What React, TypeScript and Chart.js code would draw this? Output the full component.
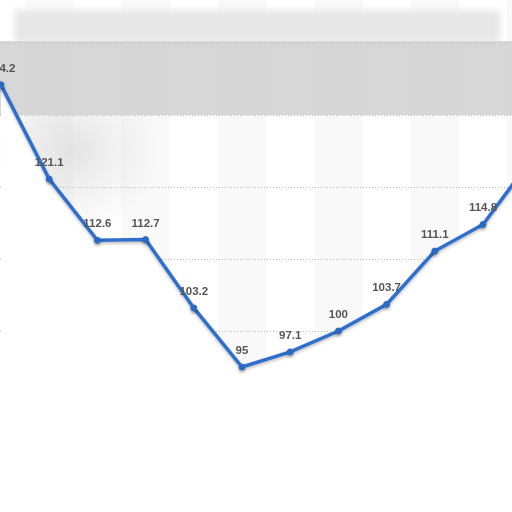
import React, { useRef, useEffect } from "react";
import { Chart, registerables } from "chart.js";

Chart.register(...registerables);

// values read left to right; the first sits on the left edge, the last runs off the right edge
const values: number[] = [134.2, 121.1, 112.6, 112.7, 103.2, 95, 97.1, 100, 103.7, 111.1, 114.8, 123.8];
const labels: string[] = ["134.2", "121.1", "112.6", "112.7", "103.2", "95", "97.1", "100", "103.7", "111.1", "114.8", ""];
const gridValues: number[] = [100, 110, 120, 130, 140];

const LINE = "#2e6fcd";

const backdrop = {
	id: "backdrop",
	beforeDraw(chart: any) {
		const { ctx, chartArea, scales } = chart;
		const x = scales.x;
		const y = scales.y;
		ctx.save();
		ctx.fillStyle = "#ffffff";
		ctx.fillRect(0, 0, chart.width, chart.height);
		// alternating column stripes
		ctx.fillStyle = "#f9f9f9";
		for (let i = 1; i < values.length; i += 2) {
			const l = x.getPixelForValue(i - 0.5);
			const r = x.getPixelForValue(i + 0.5);
			ctx.fillRect(l, chartArea.top, r - l, chartArea.bottom - chartArea.top);
		}
		// blurred grey band at the top
		const top = y.getPixelForValue(130);
		ctx.filter = "blur(3px)";
		ctx.fillStyle = "#e7e7e7";
		ctx.fillRect(14, 10, chart.width - 26, 32);
		ctx.filter = "none";
		ctx.fillStyle = "rgba(208,208,208,0.85)";
		ctx.fillRect(0, 41, chart.width, top - 41);
		// haze on the left under the band
		const g = ctx.createRadialGradient(75, 150, 5, 75, 150, 85);
		g.addColorStop(0, "rgba(205,205,205,0.5)");
		g.addColorStop(1, "rgba(205,205,205,0)");
		ctx.fillStyle = g;
		ctx.fillRect(0, top, 180, 140);
		// dotted horizontal grid
		ctx.strokeStyle = "#bdbdbd";
		ctx.lineWidth = 1;
		ctx.setLineDash([1, 2]);
		gridValues.forEach((v) => {
			const py = Math.round(y.getPixelForValue(v)) + 0.5;
			ctx.beginPath();
			ctx.moveTo(chartArea.left, py);
			ctx.lineTo(chartArea.right, py);
			ctx.stroke();
		});
		ctx.restore();
	},
	beforeDatasetDraw(chart: any) {
		const ctx = chart.ctx;
		ctx.save();
		ctx.shadowColor = "rgba(0,0,0,0.25)";
		ctx.shadowBlur = 3;
		ctx.shadowOffsetY = 2;
	},
	afterDatasetDraw(chart: any) {
		chart.ctx.restore();
	},
	afterDatasetsDraw(chart: any) {
		const { ctx } = chart;
		const meta = chart.getDatasetMeta(0);
		ctx.save();
		ctx.font = "bold 11.5px 'Liberation Sans', Arial, sans-serif";
		ctx.fillStyle = "#555555";
		ctx.textAlign = "center";
		ctx.textBaseline = "alphabetic";
		meta.data.forEach((pt: any, i: number) => {
			if (labels[i]) ctx.fillText(labels[i], pt.x, pt.y - 13);
		});
		ctx.restore();
	},
};

const App: React.FC = () => {
	const chartRef = useRef<HTMLCanvasElement | null>(null);
	const chartInstance = useRef<Chart | null>(null);

	useEffect(() => {
		if (chartInstance.current) {
			chartInstance.current.destroy();
			chartInstance.current = null;
		}
		if (!chartRef.current) return;

		chartInstance.current = new Chart(chartRef.current, {
			type: "line",
			data: {
				datasets: [
					{
						data: values.map((v, i) => ({ x: i, y: v })),
						borderColor: LINE,
						borderWidth: 3.5,
						backgroundColor: "#ffffff",
						fill: "start",
						pointRadius: 3,
						pointBackgroundColor: LINE,
						pointBorderColor: LINE,
						pointBorderWidth: 1,
						tension: 0,
					},
				],
			},
			options: {
				animation: false,
				responsive: false,
				maintainAspectRatio: false,
				layout: { padding: 0, autoPadding: false },
				plugins: {
					legend: { display: false },
					tooltip: { enabled: false },
				},
				scales: {
					x: {
						type: "linear",
						display: false,
						min: -1 / 48.2,
						max: 511 / 48.2,
					},
					y: {
						type: "linear",
						display: false,
						min: 130 - 397 / 7.2,
						max: 130 + 115 / 7.2,
					},
				},
			} as any,
			plugins: [backdrop],
		});

		return () => {
			if (chartInstance.current) {
				chartInstance.current.destroy();
				chartInstance.current = null;
			}
		};
	}, []);

	return (
		<div style={{ position: "fixed", left: 0, top: 0, width: 512, height: 512 }}>
			<canvas ref={chartRef} width={512} height={512} style={{ width: 512, height: 512 }}></canvas>
		</div>
	);
};

export default App;
